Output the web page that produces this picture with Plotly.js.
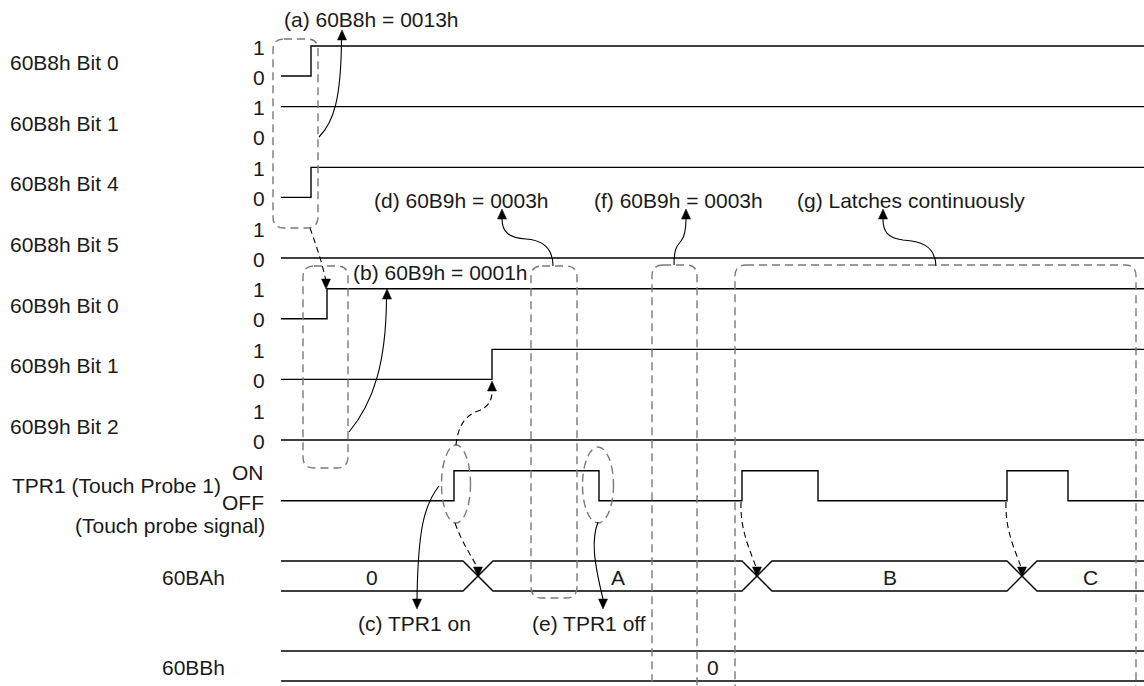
<!DOCTYPE html>
<html><head><meta charset="utf-8">
<script src="https://cdn.plot.ly/plotly-3.0.1.min.js"></script>
<style>html,body{margin:0;padding:0;background:#fff}#chart{width:1144px;height:686px}</style>
</head><body><div id="chart"></div>
<script>
// ---------------- data ----------------
const bitNames = ['60B8h Bit 0','60B8h Bit 1','60B8h Bit 4','60B8h Bit 5','60B9h Bit 0','60B9h Bit 1','60B9h Bit 2'];
const bitInitial = [0, 1, 0, 0, 0, 0, 0];
const bitRiseTime = [311, null, 311, null, 327, 492, null];
const levelLabels = ['1', '0'];
const tprName = 'TPR1 (Touch Probe 1)';
const tprSubName = '(Touch probe signal)';
const tprLevels = ['ON', 'OFF'];
const tprEdgeTimes = [454, 599, 742, 818, 1007, 1068];
const busNames = ['60BAh', '60BBh'];
const bus60BAValues = ['0', 'A', 'B', 'C'];
const bus60BAChanges = [478, 757, 1022];
const bus60BBValues = ['0'];
const bus60BBChanges = [];
const notes = ['(a) 60B8h = 0013h', '(b) 60B9h = 0001h', '(c) TPR1 on', '(d) 60B9h = 0003h',
               '(e) TPR1 off', '(f) 60B9h = 0003h', '(g) Latches continuously'];
const timeStart = 281, timeEnd = 1144;

// ---------------- layout helpers ----------------
const PITCH = 60.67, TOP0 = 46, SWING = 30, XW = 15;
const hi = i => TOP0 + PITCH * i;
const lo = i => hi(i) + SWING;
const busTop = [561, 651];
const FONT = {family: 'Liberation Sans, Arial, sans-serif', size: 21, color: '#1a1a1a'};
const LINE = {color: '#000', width: 1.4};

const traces = [];
function addLine(xs, ys, shape) {
  traces.push({type: 'scatter', mode: 'lines', x: xs, y: ys,
    line: Object.assign({}, LINE, shape ? {shape: shape} : {}), hoverinfo: 'skip', showlegend: false});
}
// bit rows
bitNames.forEach((n, i) => {
  if (bitRiseTime[i] == null) {
    const y = bitInitial[i] ? hi(i) : lo(i);
    addLine([timeStart, timeEnd], [y, y]);
  } else {
    addLine([timeStart, bitRiseTime[i], timeEnd], [lo(i), hi(i), hi(i)], 'hv');
  }
});
// TPR1 row
(function () {
  const r = 7; const xs = [timeStart], ys = [lo(r)]; let s = 0;
  tprEdgeTimes.forEach(t => { s = 1 - s; xs.push(t); ys.push(s ? hi(r) : lo(r)); });
  xs.push(timeEnd); ys.push(ys[ys.length - 1]);
  addLine(xs, ys, 'hv');
})();
// buses
const annotations = [];
function bus(changes, values, top) {
  const bot = top + SWING;
  const a = {x: [timeStart], y: [top]}, b = {x: [timeStart], y: [bot]};
  let flip = false;
  changes.forEach(c => {
    a.x.push(c - XW, c + XW); b.x.push(c - XW, c + XW);
    a.y.push(flip ? bot : top, flip ? top : bot);
    b.y.push(flip ? top : bot, flip ? bot : top);
    flip = !flip;
  });
  a.x.push(timeEnd); a.y.push(a.y[a.y.length - 1]);
  b.x.push(timeEnd); b.y.push(b.y[b.y.length - 1]);
  addLine(a.x, a.y); addLine(b.x, b.y);
  values.forEach((v, k) => {
    const s = k === 0 ? timeStart : changes[k - 1] + XW;
    const e = k === changes.length ? timeEnd : changes[k] - XW;
    annotations.push({x: (s + e) / 2, y: top + SWING / 2 + 1, text: v, showarrow: false,
      xanchor: 'center', yanchor: 'middle', font: FONT});
  });
}
bus(bus60BAChanges, bus60BAValues, busTop[0]);
bus(bus60BBChanges, bus60BBValues, busTop[1]);

// ---------------- text labels ----------------
function txt(x, y, t, xa) {
  annotations.push({x: x, y: y, text: t, showarrow: false, xanchor: xa || 'left', yanchor: 'middle', font: FONT});
}
bitNames.forEach((n, i) => {
  txt(8, hi(i) + SWING / 2 + 1.5, n);
  txt(267, hi(i) + 1, levelLabels[0], 'right');
  txt(267, lo(i) + 1, levelLabels[1], 'right');
});
txt(10, 485, tprName);
txt(266, hi(7) + 2, tprLevels[0], 'right');
txt(266, lo(7) + 2, tprLevels[1], 'right');
txt(267, 525, tprSubName, 'right');
txt(160, busTop[0] + SWING / 2 + 1, busNames[0]);
txt(160, busTop[1] + SWING / 2 + 1, busNames[1]);
txt(282, 19, notes[0]);
txt(351, 272, notes[1]);
txt(356, 623, notes[2]);
txt(372, 200, notes[3]);
txt(530, 623, notes[4]);
txt(592, 200, notes[5]);
txt(795, 200, notes[6]);

// ---------------- decorations (boxes, curves, arrows) ----------------
const shapes = [];
const BOX = {color: '#7a7a7a', width: 1.4, dash: '8px,5px'};
const CONN = {color: '#000', width: 1.1, dash: '6px,4px'};
const SOLID = {color: '#000', width: 1.1};
function rrect(x0, y0, x1, y1, r) {
  return `M${x0 + r},${y0} L${x1 - r},${y0} Q${x1},${y0} ${x1},${y0 + r} L${x1},${y1 - r} Q${x1},${y1} ${x1 - r},${y1} ` +
         `L${x0 + r},${y1} Q${x0},${y1} ${x0},${y1 - r} L${x0},${y0 + r} Q${x0},${y0} ${x0 + r},${y0} Z`;
}
function path(p, line) { shapes.push({type: 'path', xref: 'x', yref: 'y', path: p, line: line, layer: 'above'}); }
function ell(cx, cy, rx, ry) {
  shapes.push({type: 'circle', xref: 'x', yref: 'y', x0: cx - rx, x1: cx + rx, y0: cy - ry, y1: cy + ry, line: BOX, layer: 'above'});
}
function head(x, y, dir) {
  const d = dir === 'up' ? 10 : -10;
  shapes.push({type: 'path', xref: 'x', yref: 'y', path: `M${x - 4.5},${y + d} L${x + 4.5},${y + d} L${x},${y} Z`,
    fillcolor: '#000', line: {color: '#000', width: 0.5}, layer: 'above'});
}
// dashed boxes
path(rrect(273, 39, 318, 228, 11), BOX);
path(rrect(303, 266, 348, 468, 11), BOX);
path(rrect(531, 266, 577, 598, 11), BOX);
path(rrect(652, 265, 697, 694, 11), BOX);
path(rrect(735, 265, 1136, 694, 11), BOX);
ell(456, 484, 14.5, 39);
ell(598, 485, 15.5, 38);
// solid curves with arrowheads
path('M319,137 C334,122 341,98 341.5,40', SOLID); head(342, 30, 'up');
path('M349,432 C374,402 386,362 386.5,299', SOLID); head(387, 289, 'up');
path('M439,486 C424,505 418,530 417,599', SOLID); head(417, 609, 'down');
path('M553,266 C553,246 540,240 526,239 C509,238 502,232 502,219', SOLID); head(502, 209, 'up');
path('M598,522 C591,540 594,562 603,599', SOLID); head(603, 609, 'down');
path('M674,265 C674,248 677,246 681,241 C685,236 686,229 686,219', SOLID); head(686, 209, 'up');
path('M936,266 C935,244 918,241 903,240 C888,238 883,232 883,219', SOLID); head(883, 209, 'up');
// dashed connectors with arrowheads
path('M310,228 C316,245 322,262 325.5,279', CONN); head(326, 289, 'down');
path('M456,445 C458,425 466,415 478,411 C489,407 492,400 492,391', CONN); head(492, 381, 'up');
path('M455,523 C462,543 471,555 477,567', CONN); head(478, 577, 'down');
path('M741,502 C740,530 750,550 756,567', CONN); head(757, 577, 'down');
path('M1006,502 C1005,530 1015,550 1021,567', CONN); head(1022, 577, 'down');

const layout = {
  width: 1144, height: 686, margin: {l: 0, r: 0, t: 0, b: 0},
  paper_bgcolor: '#fff', plot_bgcolor: '#fff', showlegend: false,
  xaxis: {range: [0, 1144], visible: false, fixedrange: true},
  yaxis: {range: [686, 0], visible: false, fixedrange: true},
  shapes: shapes, annotations: annotations
};
Plotly.newPlot('chart', traces, layout, {displayModeBar: false, staticPlot: true});
</script></body></html>
